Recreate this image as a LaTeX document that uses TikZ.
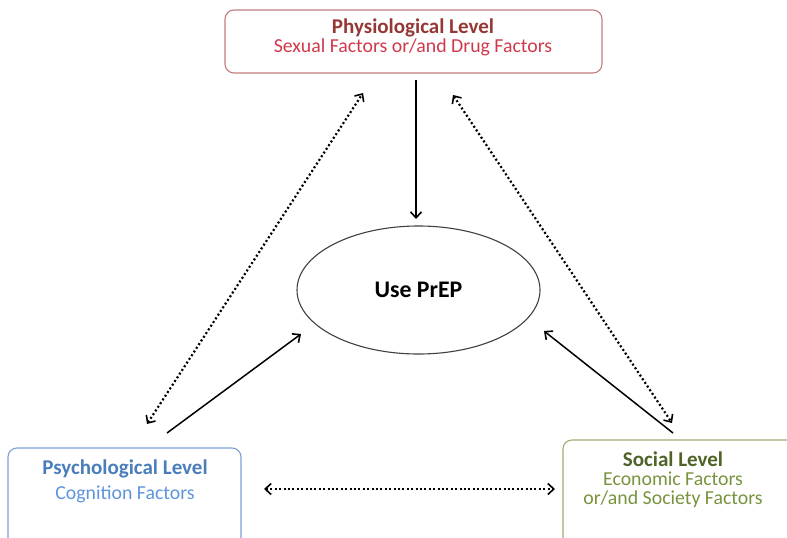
\documentclass[tikz,border=0pt]{standalone}
\usepackage{fontspec}
\setmainfont{Carlito}
\usetikzlibrary{arrows.meta,shapes.geometric}
\definecolor{physB}{HTML}{C27D7F}
\definecolor{physT}{HTML}{953735}
\definecolor{physS}{HTML}{D0394B}
\definecolor{psyB}{HTML}{7F9FD2}
\definecolor{psyT}{HTML}{4A7EBB}
\definecolor{psyS}{HTML}{5F94DA}
\definecolor{socB}{HTML}{9DAD74}
\definecolor{socT}{HTML}{4F6228}
\definecolor{socS}{HTML}{77933C}
\tikzset{
  levelbox/.style={draw, rounded corners=9pt, line width=1.1pt, inner sep=0pt},
  titletext/.style={font=\fontsize{21}{22}\selectfont\bfseries, inner sep=0pt, text height=13pt, text depth=3pt},
  subtext/.style={font=\fontsize{19.8}{19}\selectfont, inner sep=0pt, text height=12pt, text depth=3pt},
  solidarrow/.style={line width=1.5pt, -{Straight Barb[length=6pt,width=11pt,line width=1.6pt]}},
  dotarrow/.style={line width=2.2pt, dash pattern=on 2pt off 2.4pt,
     {Straight Barb[length=6pt,width=11pt,line width=1.6pt,sep=0pt]}-{Straight Barb[length=6pt,width=11pt,line width=1.6pt]}},
}
\begin{document}
\begin{tikzpicture}[x=1pt,y=-1pt]
\useasboundingbox (0,0) rectangle (787,538);
% boxes
\draw[levelbox, physB] (225,10) rectangle (602,73);
\draw[levelbox, psyB] (8,448) rectangle (241,560);
\draw[levelbox, socB] (563,440) rectangle (810,560);
% texts
\node[titletext, text=physT] (phys) at (413,28) {Physiological Level};
\node[subtext, text=physS] (physsub) at (413,47.5) {Sexual Factors or/and Drug Factors};
\node[titletext, text=psyT] (psy) at (125,469) {Psychological Level};
\node[subtext, text=psyS] (psysub) at (125,495) {Cognition Factors};
\node[titletext, text=socT] (soc) at (673,461) {Social Level};
\node[subtext, text=socS] (socsub1) at (673,481) {Economic Factors};
\node[subtext, text=socS] (socsub2) at (673,500) {or/and Society Factors};
% ellipse
\node[draw, ellipse, line width=1.1pt, draw=black!75, minimum width=243pt, minimum height=128pt, inner sep=0pt,
      font=\fontsize{23.8}{26}\selectfont\bfseries] (prep) at (418.5,290) {Use PrEP};
% arrow endpoints
\coordinate (a1s) at (416,80);  \coordinate (a1e) at (416,219);
\coordinate (l1) at (147,424);  \coordinate (l2) at (363,93);
\coordinate (l3) at (167,433);  \coordinate (l4) at (301,334);
\coordinate (r1) at (453,95);   \coordinate (r2) at (672,423);
\coordinate (r3) at (673,433);  \coordinate (r4) at (544,331);
\coordinate (h1) at (264,489);  \coordinate (h2) at (555,489);
% connectors
\draw[solidarrow] (a1s) -- (a1e);
\draw[dotarrow] (l1) -- (l2);
\draw[solidarrow] (l3) -- (l4);
\draw[dotarrow] (r1) -- (r2);
\draw[solidarrow] (r3) -- (r4);
\draw[dotarrow] (h1) -- (h2);
\end{tikzpicture}
\end{document}
